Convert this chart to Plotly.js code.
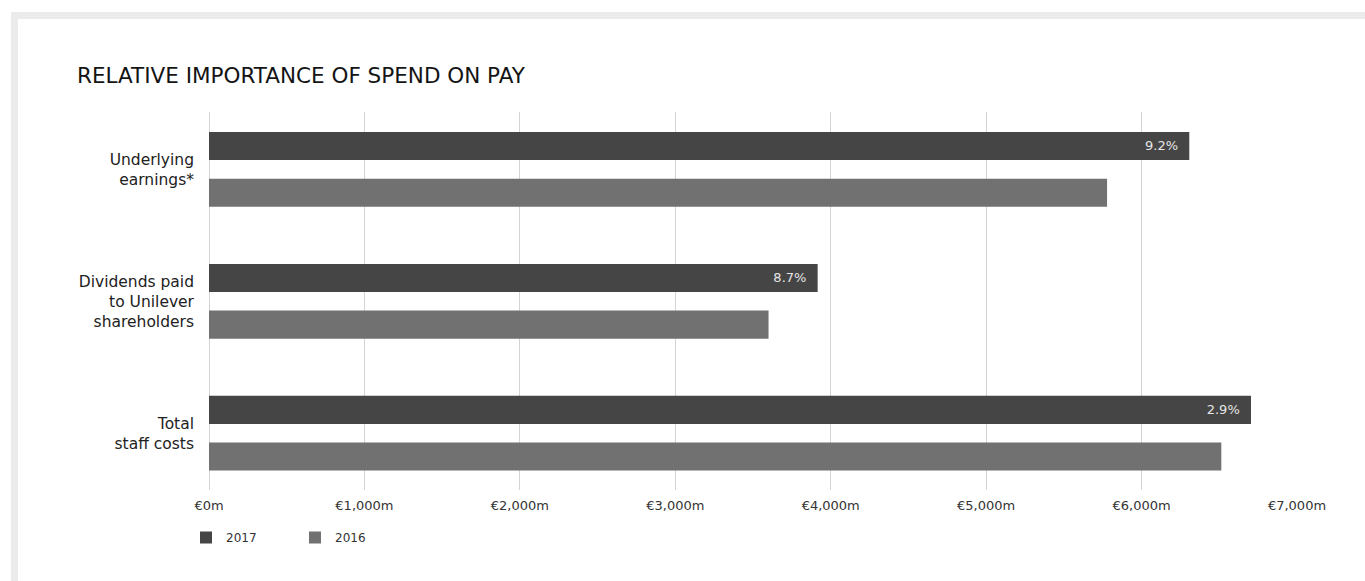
<!DOCTYPE html>
<html>
<head>
<meta charset="utf-8">
<script src="https://cdn.plot.ly/plotly-3.0.1.min.js"></script>
<style>
  html, body { margin: 0; padding: 0; background: #ffffff; }
  #frame { position: absolute; left: 11px; top: 12px; width: 1354px; height: 569px; background: #ebebeb; }
  #panel { position: absolute; left: 18px; top: 19px; width: 1347px; height: 562px; background: #ffffff; }
  #chart { position: absolute; left: 0; top: 0; width: 1365px; height: 581px; }
</style>
</head>
<body>
<div id="frame"></div>
<div id="panel"></div>
<div id="chart"></div>
<script>
// Categories (top to bottom)
const categories = [
  "Underlying<br>earnings*",
  "Dividends paid<br>to Unilever<br>shareholders",
  "Total<br>staff costs"
];
// Values in € millions
const values2017 = [6307, 3916, 6704];
const values2016 = [5778, 3600, 6513];
// Growth labels shown on the 2017 bars
const growthLabels = ["9.2%", "8.7%", "2.9%"];
// X axis ticks
const tickValues = [0, 1000, 2000, 3000, 4000, 5000, 6000, 7000];
const tickLabels = ["€0m", "€1,000m", "€2,000m", "€3,000m", "€4,000m", "€5,000m", "€6,000m", "€7,000m"];
const seriesNames = ["2017", "2016"];

const FONT = "'DejaVu Sans', Roboto, sans-serif";

const traces = [
  {
    type: "bar",
    orientation: "h",
    name: seriesNames[0],
    y: categories,
    x: values2017,
    marker: { color: "#454545", line: { width: 0 } },
    text: growthLabels.map(t => t + "\u00a0\u00a0"),
    textposition: "inside",
    insidetextanchor: "end",
    textangle: 0,
    insidetextfont: { family: FONT, size: 13, color: "#e6e6e6" },
    hoverinfo: "skip"
  },
  {
    type: "bar",
    orientation: "h",
    name: seriesNames[1],
    y: categories,
    x: values2016,
    marker: { color: "#717171", line: { width: 0 } },
    hoverinfo: "skip"
  }
];

const layout = {
  width: 1365,
  height: 581,
  paper_bgcolor: "rgba(0,0,0,0)",
  plot_bgcolor: "rgba(0,0,0,0)",
  margin: { l: 209, r: 68, t: 112, b: 91, pad: 0 },
  font: { family: FONT, color: "#333333" },
  title: {
    text: "RELATIVE IMPORTANCE OF SPEND ON PAY",
    font: { family: FONT, size: 21.5, color: "#141414" },
    xref: "container",
    yref: "container",
    x: 77 / 1365,
    xanchor: "left",
    y: 1 - 75 / 581,
    yanchor: "middle"
  },
  barmode: "group",
  bargap: 0.292,
  bargroupgap: 0.4,
  xaxis: {
    range: [0, 7000],
    tickvals: tickValues,
    ticktext: tickLabels,
    showgrid: true,
    gridcolor: "#d4d4d4",
    gridwidth: 1,
    zeroline: true,
    zerolinecolor: "#d4d4d4",
    zerolinewidth: 1,
    showline: false,
    ticks: "",
    ticklabelstandoff: 6,
    tickfont: { family: FONT, size: 13, color: "#333333" },
    fixedrange: true
  },
  yaxis: {
    type: "category",
    range: [2.430, -0.434],
    showgrid: false,
    zeroline: false,
    showline: false,
    ticks: "",
    ticklabelstandoff: 14,
    tickfont: { family: FONT, size: 15.5, color: "#222222" },
    fixedrange: true
  },
  showlegend: true,
  legend: {
    orientation: "h",
    x: (186 - 209) / 1088,
    xanchor: "left",
    y: -(523 - 490) / 378,
    yanchor: "top",
    entrywidth: 64,
    entrywidthmode: "pixels",
    font: { family: FONT, size: 12, color: "#333333" },
    bgcolor: "rgba(0,0,0,0)",
    traceorder: "normal"
  }
};

Plotly.newPlot("chart", traces, layout, { staticPlot: true, displayModeBar: false });
</script>
</body>
</html>
